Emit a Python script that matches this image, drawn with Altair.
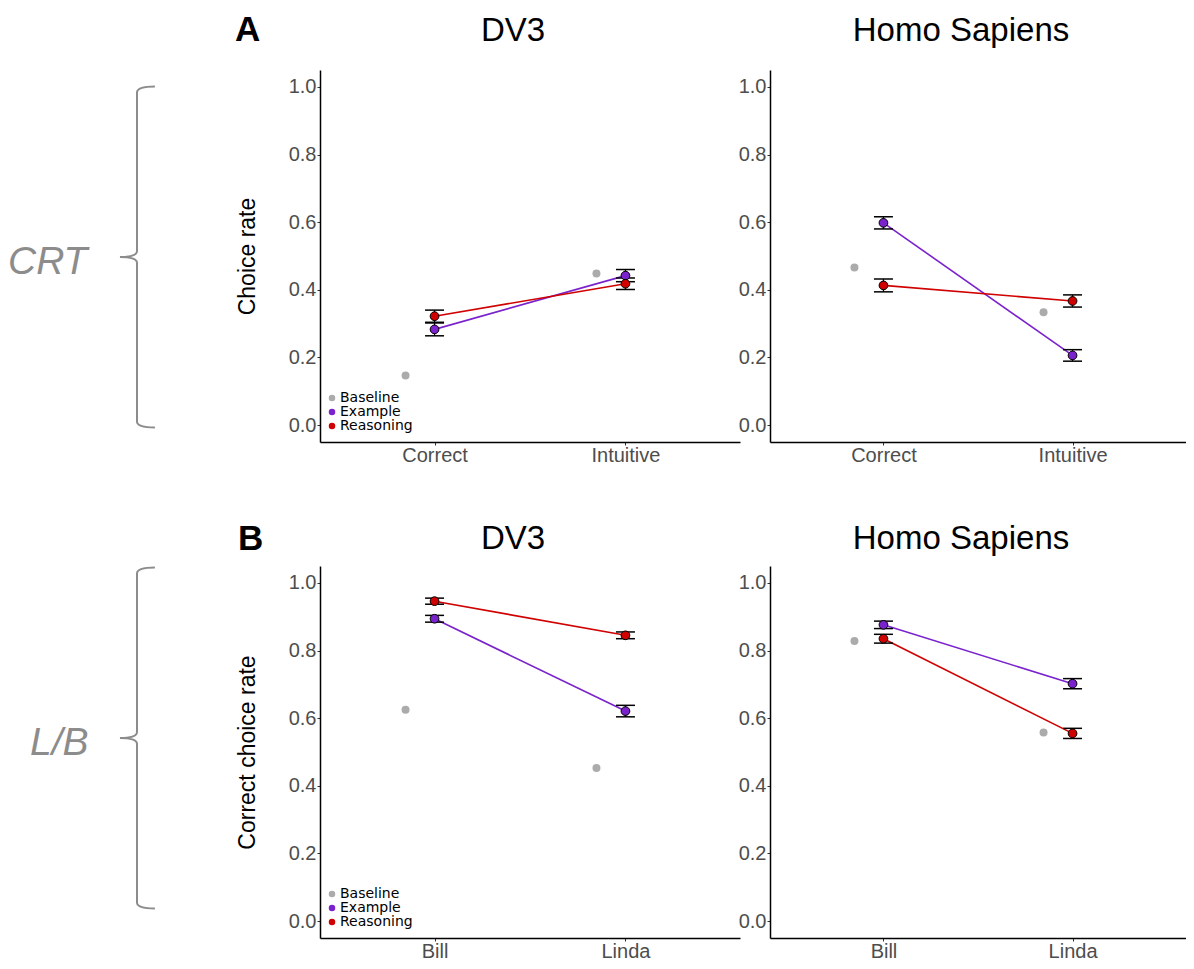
import altair as alt
import pandas as pd

# ---------------- data ----------------
conditions = ["Baseline", "Example", "Reasoning"]
condition_colors = ["#ABABAB", "#7A22CC", "#D00000"]
models = ["DV3", "Homo Sapiens"]
row_labels = ["CRT", "L/B"]
panel_letters = ["A", "B"]
y_titles = ["Choice rate", "Correct choice rate"]

crt_categories = ["Correct", "Intuitive"]
crt_dv3_baseline = [0.147, 0.448]
crt_dv3_example = [0.283, 0.442]
crt_dv3_example_se = [0.019, 0.018]
crt_dv3_reasoning = [0.322, 0.418]
crt_dv3_reasoning_se = [0.018, 0.017]
crt_human_baseline = [0.466, 0.334]
crt_human_example = [0.598, 0.206]
crt_human_example_se = [0.018, 0.017]
crt_human_reasoning = [0.413, 0.367]
crt_human_reasoning_se = [0.019, 0.018]

lb_categories = ["Bill", "Linda"]
lb_dv3_baseline = [0.625, 0.453]
lb_dv3_example = [0.894, 0.621]
lb_dv3_example_se = [0.010, 0.017]
lb_dv3_reasoning = [0.946, 0.845]
lb_dv3_reasoning_se = [0.009, 0.010]
lb_human_baseline = [0.828, 0.558]
lb_human_example = [0.876, 0.702]
lb_human_example_se = [0.011, 0.015]
lb_human_reasoning = [0.835, 0.555]
lb_human_reasoning_se = [0.013, 0.015]

y_ticks = [0.0, 0.2, 0.4, 0.6, 0.8, 1.0]


def make_df(categories, baseline, example, example_se, reasoning, reasoning_se):
    rows = []
    for i, cat in enumerate(categories):
        rows.append(dict(category=cat, condition="Baseline", rate=baseline[i],
                         lo=baseline[i], hi=baseline[i]))
        rows.append(dict(category=cat, condition="Example", rate=example[i],
                         lo=example[i] - example_se[i], hi=example[i] + example_se[i]))
        rows.append(dict(category=cat, condition="Reasoning", rate=reasoning[i],
                         lo=reasoning[i] - reasoning_se[i], hi=reasoning[i] + reasoning_se[i]))
    return pd.DataFrame(rows)


data = {
    (0, 0): make_df(crt_categories, crt_dv3_baseline, crt_dv3_example, crt_dv3_example_se,
                    crt_dv3_reasoning, crt_dv3_reasoning_se),
    (0, 1): make_df(crt_categories, crt_human_baseline, crt_human_example, crt_human_example_se,
                    crt_human_reasoning, crt_human_reasoning_se),
    (1, 0): make_df(lb_categories, lb_dv3_baseline, lb_dv3_example, lb_dv3_example_se,
                    lb_dv3_reasoning, lb_dv3_reasoning_se),
    (1, 1): make_df(lb_categories, lb_human_baseline, lb_human_example, lb_human_example_se,
                    lb_human_reasoning, lb_human_reasoning_se),
}
row_categories = [crt_categories, lb_categories]

# ---------------- style ----------------
WIDTHS = [420, 416]
H = 372
FONT = "Liberation Sans"
GRAY_TXT = "#4D4D4D"
BRACE = "M0.105,-1 Q0,-1 0,-0.965 L0,-0.035 Q0,0 -0.1,0 Q0,0 0,0.035 L0,0.965 Q0,1 0.105,1"
BRACE_H = 341
title_y = [-29, -17]
brace_y = [187, 172]
label_x = [-312, -290]
letter_pos = [(-85, -29), (-82, -16)]

color_scale = alt.Scale(domain=conditions, range=condition_colors)


def panel(r, c):
    df = data[(r, c)]
    cats = row_categories[r]
    left = c == 0
    W = WIDTHS[c]
    xenc = alt.X("category:N", sort=cats,
                 scale=alt.Scale(type="point", domain=cats, padding=0.6),
                 axis=alt.Axis(title=None, labelAngle=0, tickSize=3, labelPadding=0,
                               labelFontSize=20))
    yaxis = alt.Axis(values=y_ticks, format=".1f", tickSize=3, labelPadding=1,
                     labelFontSize=20,
                     title=y_titles[r] if left else None, titleX=-73,
                     titleBaseline="middle",
                     titleFontSize=23, titleFontWeight="normal", titleColor="black")
    yscale = alt.Scale(domain=[-0.05, 1.05], nice=False, zero=False)

    def Y(field):
        return alt.Y(field, scale=yscale, axis=yaxis)

    legend = (alt.Legend(title=None, orient="none", legendX=5, legendY=321,
                         symbolType="circle", symbolSize=42, symbolStrokeWidth=0,
                         symbolOpacity=1, labelFont="DejaVu Sans", labelFontSize=14,
                         labelColor="black", labelOffset=1, rowPadding=0, padding=0)
              if left else None)

    base = alt.Chart(df)
    is_base = alt.datum.condition == "Baseline"
    not_base = alt.datum.condition != "Baseline"

    baseline_pts = base.transform_filter(is_base).mark_circle(
        size=64, opacity=1, xOffset=-29).encode(
        x=xenc, y=Y("rate:Q"),
        color=alt.Color("condition:N", scale=color_scale, legend=legend))
    lines = base.transform_filter(not_base).mark_line(strokeWidth=1.6).encode(
        x=xenc, y=Y("rate:Q"),
        stroke=alt.Stroke("condition:N", scale=color_scale, legend=None))
    err = base.transform_filter(not_base).mark_rule(color="black", strokeWidth=1.2).encode(
        x=xenc, y=Y("lo:Q"), y2="hi:Q")
    cap_lo = base.transform_filter(not_base).mark_tick(
        color="black", size=19, thickness=1.5, opacity=1).encode(x=xenc, y=Y("lo:Q"))
    cap_hi = base.transform_filter(not_base).mark_tick(
        color="black", size=19, thickness=1.5, opacity=1).encode(x=xenc, y=Y("hi:Q"))
    pts = base.transform_filter(not_base).mark_circle(
        size=76, opacity=1, stroke="black", strokeWidth=1).encode(
        x=xenc, y=Y("rate:Q"),
        color=alt.Color("condition:N", scale=color_scale, legend=legend))

    lab = pd.DataFrame({"label": [row_labels[r]], "letter": [panel_letters[r]],
                        "model": [models[c]]})
    title = alt.Chart(lab).mark_text(
        font=FONT, fontSize=33, color="black", align="center",
        baseline="alphabetic").encode(
        text="model:N", x=alt.value(W / 2 - 17), y=alt.value(title_y[r]))

    layers = [baseline_pts, lines, err, cap_lo, cap_hi, pts, title]

    if left:
        brace = alt.Chart(lab).mark_point(
            shape=BRACE, size=BRACE_H * BRACE_H, filled=False, stroke="#8C8C8C",
            strokeWidth=2, opacity=1).encode(x=alt.value(-183), y=alt.value(brace_y[r]))
        row_text = alt.Chart(lab).mark_text(
            font=FONT, fontSize=39, fontStyle="italic", color="#8C8C8C",
            align="left", baseline="middle").encode(
            text="label:N", x=alt.value(label_x[r]), y=alt.value(brace_y[r] + 5))
        letter = alt.Chart(lab).mark_text(
            font=FONT, fontSize=35, fontWeight="bold", color="black",
            align="left", baseline="alphabetic").encode(
            text="letter:N", x=alt.value(letter_pos[r][0]), y=alt.value(letter_pos[r][1]))
        layers += [brace, row_text, letter]

    return alt.layer(*layers).properties(width=W, height=H)


panels = [panel(r, c) for r in range(2) for c in range(2)]

chart = alt.concat(*panels, columns=2, spacing={"row": 124, "column": 30},
                   bounds="flush").properties(
    padding={"left": 0, "top": 5, "right": 0, "bottom": 0}
).resolve_scale(color="independent", stroke="independent").configure_view(
    stroke=None
).configure_axis(
    grid=False, domainColor="black", domainWidth=1.5, tickColor="#333333",
    tickWidth=1, labelColor=GRAY_TXT, labelFont=FONT, titleFont=FONT
)

chart.save("out.html", embed_options={"renderer": "svg", "actions": False})
